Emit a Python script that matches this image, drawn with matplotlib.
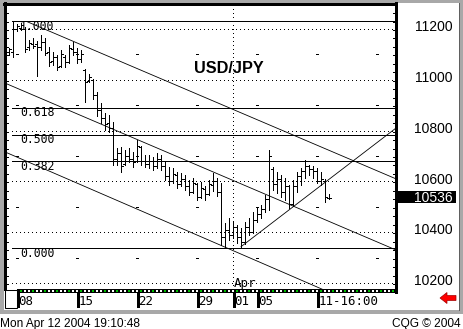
import matplotlib
matplotlib.use('Agg')
import matplotlib.pyplot as plt
from matplotlib.patches import Rectangle, Polygon
import numpy as np

plt.rcParams['font.family'] = ['Liberation Sans', 'DejaVu Sans']

# ---------------- data ----------------
opens = [11110, 11110, 11200, 11205, 11200, 11130, 11140, 11140, 11130, 11150,
         11110, 11075, 11090, 11055, 11090, 11070, 11120, 11110, 11080, 11040,
         10995, 11000, 10940, 10880, 10850, 10830, 10810, 10690, 10710, 10670,
         10700, 10690, 10680, 10735, 10680, 10670, 10680, 10660, 10690, 10660,
         10620, 10600, 10625, 10590, 10610, 10580, 10560, 10590, 10540, 10570,
         10550, 10585, 10600, 10560, 10380, 10410, 10390, 10420, 10380, 10360,
         10420, 10400, 10450, 10470, 10490, 10530, 10650, 10590, 10610, 10560,
         10580, 10510, 10580, 10620, 10640, 10660, 10650, 10640, 10600, 10600,
         10536]
highs = [11125, 11231, 11220, 11224, 11208, 11157, 11165, 11153, 11176, 11165,
         11129, 11110, 11098, 11117, 11098, 11137, 11149, 11125, 11117, 11042,
         11023, 11003, 10952, 10909, 10869, 10861, 10834, 10731, 10735, 10723,
         10731, 10716, 10763, 10740, 10704, 10704, 10696, 10712, 10704, 10676,
         10656, 10652, 10637, 10633, 10625, 10605, 10613, 10593, 10597, 10582,
         10605, 10633, 10613, 10593, 10436, 10456, 10440, 10428, 10416, 10440,
         10456, 10479, 10495, 10507, 10546, 10723, 10656, 10637, 10625, 10613,
         10585, 10605, 10637, 10652, 10684, 10664, 10660, 10652, 10637, 10610,
         10550]
lows = [11098, 11090, 11192, 11196, 11110, 11117, 11125, 11015, 11117, 11098,
        11054, 11058, 11038, 11050, 11050, 11066, 11098, 11066, 11070, 10913,
        10991, 10924, 10857, 10830, 10802, 10794, 10664, 10664, 10637, 10664,
        10676, 10656, 10676, 10664, 10656, 10652, 10644, 10652, 10644, 10605,
        10585, 10595, 10574, 10582, 10566, 10546, 10555, 10526, 10534, 10526,
        10546, 10562, 10542, 10349, 10338, 10369, 10377, 10357, 10343, 10355,
        10389, 10396, 10440, 10456, 10479, 10487, 10566, 10554, 10538, 10526,
        10495, 10505, 10558, 10585, 10613, 10625, 10613, 10593, 10585, 10519,
        10530]
closes = [11120, 11200, 11210, 11215, 11120, 11145, 11135, 11130, 11150, 11105,
          11070, 11090, 11050, 11100, 11070, 11125, 11110, 11080, 11100, 10990,
          11010, 10940, 10880, 10850, 10825, 10810, 10690, 10710, 10660, 10700,
          10690, 10675, 10740, 10680, 10670, 10680, 10660, 10690, 10660, 10620,
          10600, 10630, 10590, 10610, 10580, 10560, 10595, 10540, 10575, 10550,
          10590, 10600, 10560, 10380, 10410, 10390, 10420, 10380, 10360, 10420,
          10400, 10450, 10470, 10490, 10530, 10700, 10590, 10610, 10560, 10580,
          10510, 10580, 10620, 10640, 10660, 10650, 10640, 10600, 10610, 10540,
          10536]

day_labels = ['08', '15', '22', '29', '01', '05', '11-16:00']
day_first_bar = [3, 18, 33, 48, 57, 63, 78]
month_label = 'Apr'
month_first_bar = 57

price_ticks = [11200, 11000, 10800, 10600, 10400, 10200]
half_levels = [11100, 10900, 10700, 10500, 10300]
week_first_bars = [3, 18, 33, 48, 63, 78, 93]

fib_ratios = [1.0, 0.618, 0.5, 0.382, 0.0]
fib_labels = ['1.000', '0.618', '0.500', '0.382', '0.000']
fib_high, fib_low, fib_start_bar = 11231, 10338, 1

channel_upper = [(4.5, 11229), (96.75, 10610)]
channel_mid = [(-1, 10987), (96.75, 10330)]
channel_low = [(-1, 10716), (80.0, 10164)]
trend_up = [(58, 10343), (96.75, 10810)]

last_price = 10536
title = 'USD/JPY'
footer_left = 'Mon Apr 12 2004 19:10:48'
footer_right = 'CQG © 2004'

# ---------------- layout ----------------
W, H = 463, 329
PL, PT, PR, PB = 5, 4, 396, 289
XL = (-1, 96.75)
YL = (10176.4, 11298.4)
GRAY = '#a8a8a8'
MONO = 'DejaVu Sans Mono'
LW = 0.5

fig = plt.figure(figsize=(W / 100, H / 100), dpi=100)
fig.patch.set_facecolor('white')
bg = fig.add_axes([0, 0, 1, 1])
bg.set_xlim(0, W)
bg.set_ylim(H, 0)
bg.axis('off')

ax = fig.add_axes([PL / W, 1 - PB / H, (PR - PL) / W, (PB - PT) / H])
ax.set_xlim(*XL)
ax.set_ylim(*YL)
ax.axis('off')


def ypx(p):
    return PT + (YL[1] - p) / (YL[1] - YL[0]) * (PB - PT)


def xpx(i):
    return PL + (i - XL[0]) / (XL[1] - XL[0]) * (PR - PL)


# gray window frame
for r in [(0, 0, W, 3), (0, 0, 4, 313), (459, 0, 4, 313), (0, 310, W, 3.5)]:
    bg.add_patch(Rectangle((r[0], r[1]), r[2], r[3], color=GRAY, lw=0))
bg.plot([458.5, 458.5], [3, 310], color='#606060', lw=LW, antialiased=False)

# plot borders
bg.plot([4, PR], [3.5, 3.5], color='black', lw=0.75, antialiased=False)
bg.plot([4.5, 4.5], [3, PB], color='black', lw=0.75, antialiased=False)
bg.plot([PR, PR], [3, PB + 3], color='black', lw=0.75, antialiased=False)

# axis side ticks every 1/3 of 100
k = np.arange(-40, 10)
for p in 11200 + k * 100 / 3:
    if YL[0] + 5 < p < YL[1] - 5:
        y = round(ypx(p)) + 0.5
        bg.plot([5, 8], [y, y], color='black', lw=LW, antialiased=False)
        bg.plot([PR - 3, PR], [y, y], color='black', lw=LW, antialiased=False)

# dotted grid
ax.hlines(price_ticks, 0.75, XL[1], colors='black', linestyles=(0, (1.4, 5.6)), lw=LW, antialiased=False)
ax.vlines([month_first_bar - 1], YL[0], YL[1], colors='black', linestyles=(0, (1.4, 5.6)), lw=LW, antialiased=False)
for lv in half_levels:
    ax.hlines([lv] * len(week_first_bars), np.array(week_first_bars) - 1.25, np.array(week_first_bars) - 0.75,
              colors='black', lw=LW, antialiased=False)

# fib lines + labels
for r, lab in zip(fib_ratios, fib_labels):
    lv = fib_low + r * (fib_high - fib_low)
    ax.hlines(lv, fib_start_bar - 0.25, XL[1], colors='black', lw=LW, antialiased=False)
    bg.text(20, ypx(lv) + 8.7, lab, family=MONO, fontsize=8.3, ha='left', va='baseline', zorder=1)

# channel / trend lines
for (a, b) in [channel_upper, channel_mid, channel_low, trend_up]:
    ax.plot([a[0], b[0]], [a[1], b[1]], color='black', lw=0.6, antialiased=True)

# OHLC bars
x = np.arange(len(highs))
ax.vlines(x, lows, highs, colors='black', lw=LW, antialiased=False, zorder=5)
ax.hlines(opens, x - 0.5, x, colors='black', lw=LW, antialiased=False, zorder=5)
ax.hlines(closes, x, x + 0.5, colors='black', lw=LW, antialiased=False, zorder=5)

# title
bg.text(229, 72.7, title, fontsize=11.7, fontweight='bold', ha='center', va='baseline')

# price labels
for p in price_ticks:
    bg.text(453, ypx(p) + 2.2, str(p), fontsize=10, ha='right', va='baseline')
yl = ypx(last_price)
bg.add_patch(Rectangle((PR + 0.5, yl - 7), 59.5, 12, color='black', lw=0))
bg.text(453, yl + 4, str(last_price), fontsize=10, ha='right', va='baseline', color='white')

# time strip
bg.add_patch(Rectangle((17, 289.3), 378, 3.5, color='black', lw=0))
for i in range(3, 97):
    xp = xpx(i)
    if xp > 393:
        break
    col = '#00c000' if i % 3 == 0 else 'white'
    bg.add_patch(Rectangle((xp - 1, 290.2), 2, 1.8, color=col, lw=0))
bg.add_patch(Rectangle((4.5, 289.5), 12.5, 18.5, facecolor='white', edgecolor='black', lw=0.75))

for lab, b in zip(day_labels, day_first_bar):
    xp = round(xpx(b - 1)) + 0.5
    bg.plot([xp, xp], [292.5, 306], color='black', lw=0.75, antialiased=False)
    bg.text(xp + 1, 305, lab, family=MONO, fontsize=9, ha='left', va='baseline')
bg.text(xpx(month_first_bar - 1) + 1, 287, month_label, family=MONO, fontsize=9, ha='left', va='baseline')

# red arrow
bg.add_patch(Polygon([(440, 298), (447, 292.5), (447, 295.5), (456, 295.5), (456, 300.5),
                      (447, 300.5), (447, 303.5)], closed=True, facecolor='#ff0000',
                     edgecolor='#a00000', lw=0.5))

# footer
bg.text(0, 326.7, footer_left, fontsize=8.6, ha='left', va='baseline')
bg.text(461, 326.7, footer_right, fontsize=8.6, ha='right', va='baseline')

fig.savefig('out.png', dpi=100, facecolor='white')
